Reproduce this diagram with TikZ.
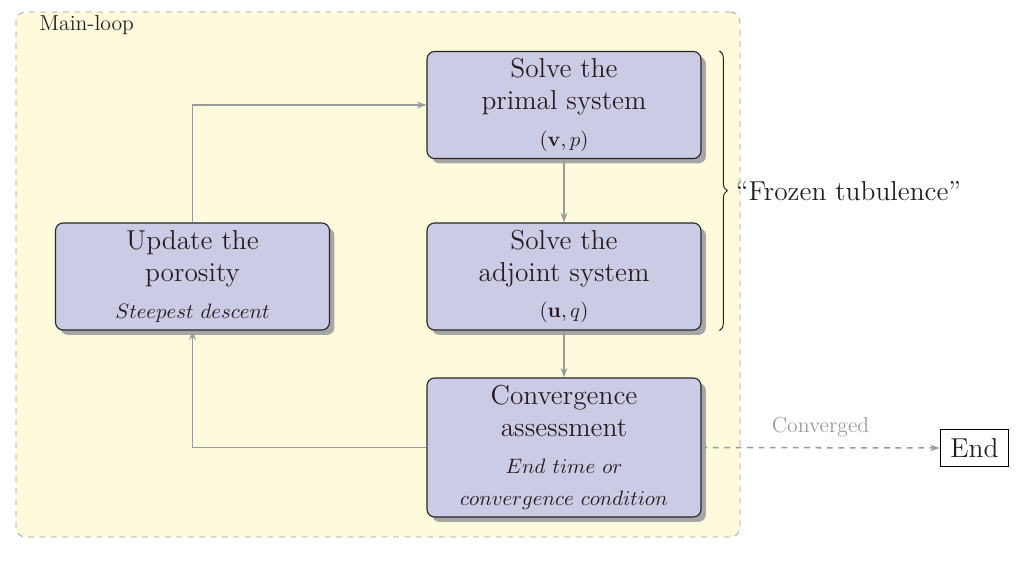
\documentclass[tikz,border=0pt]{standalone}
\usetikzlibrary{shadows,arrows.meta,decorations.pathreplacing,calc}
\definecolor{loopfill}{RGB}{254,251,220}
\definecolor{boxfill}{RGB}{203,203,230}
\definecolor{linegray}{RGB}{155,155,155}
\definecolor{textdark}{RGB}{35,31,32}
\newcommand{\smalltxt}{\fontsize{11.4}{14}\selectfont}
\newcommand{\bigtxt}{\fontsize{14.4}{16.8}\selectfont}
\begin{document}
\begin{tikzpicture}[x=0.526pt,y=-0.526pt,
  stage/.style={draw=black!85, fill=boxfill, rounded corners=4pt, line width=0.6pt,
    minimum width=144.1pt, minimum height=56.3pt, inner sep=0pt, align=center,
    font=\bigtxt, text=textdark,
    drop shadow={shadow xshift=2.6pt, shadow yshift=-2.6pt, fill=black!35, opacity=1}},
  container/.style={draw=linegray, dashed, fill=loopfill, rounded corners=5pt,
    minimum width=380.8pt, minimum height=276.2pt, inner sep=0pt},
  flow/.style={draw=linegray, line width=0.8pt, -{Stealth[length=5pt,width=3.6pt]}},
  endbox/.style={draw=black, line width=0.5pt, font=\Large, text=textdark, fill=white,
    inner xsep=5.5pt, inner ysep=4.6pt},
]
\useasboundingbox (0,0) rectangle (1025,561);
\node[container] (loop) at (378,274.5) {};
\node[anchor=west, text=textdark, font=\smalltxt] (looplabel) at (33,25) {Main-loop};

\node[stage] (primal) at (564,105) {Solve the\\primal system\\[2.4pt]{\smalltxt$(\mathbf{v},p)$}};
\node[stage] (adjoint) at (564,276.5) {Solve the\\adjoint system\\[2.4pt]{\smalltxt$(\mathbf{u},q)$}};
\node[stage] (update) at (192.5,276.5) {Update the\\porosity\\[2.4pt]{\smalltxt$Steepest\ descent$}};
\node[stage, minimum height=73.1pt] (conv) at (564,447.5) {Convergence\\assessment\\[2.4pt]{\smalltxt$End\ time\ or$}\\{\smalltxt$convergence\ condition$}};
\node[endbox] (end) at (974.5,448) {End};

\draw[flow] (primal) -- (adjoint);
\draw[flow] (adjoint) -- (conv);
\draw[flow] (conv.west) -| (update.south);
\draw[flow] (update.north) |- (primal.west);
\draw[flow, dashed] (conv.east) -- node[above=2pt, text=linegray, font=\smalltxt] (convlabel) {Converged} (end.west);

\draw[textdark, line width=0.5pt, decorate, decoration={brace, amplitude=4pt}]
  ($(primal.north east)+(18,0)$) coordinate (bt) -- ($(adjoint.south east)+(18,0)$) coordinate (bb);
\node[anchor=west, font=\Large, text=textdark, inner sep=0pt] (frozen) at ($(bt)!0.5!(bb)+(16,0)$) {``Frozen tubulence''};
\end{tikzpicture}
\end{document}
